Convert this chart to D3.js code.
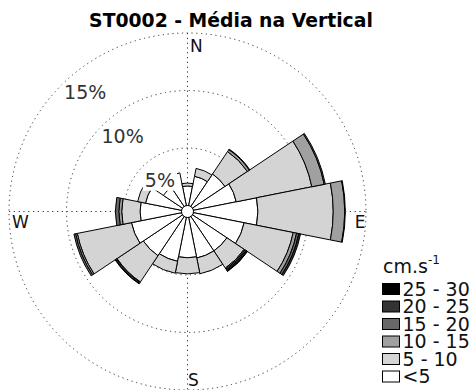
<!DOCTYPE html>
<html>
<head>
<meta charset="utf-8">
<script src="https://cdn.jsdelivr.net/npm/d3@7"></script>
<style>
  html, body { margin: 0; padding: 0; background: #fff; }
  svg { display: block; font-family: "DejaVu Sans", sans-serif; }
</style>
</head>
<body>
<svg id="rose" width="476" height="390"></svg>
<script>
// Direction sectors, clockwise from north
const directions = ["N","NNE","NE","ENE","E","ESE","SE","SSE","S","SSW","SW","WSW","W","WNW","NW","NNW"];

// Speed classes (cm/s) and their fills
const speedBins = ["<5", "5 - 10", "10 - 15", "15 - 20", "20 - 25", "25 - 30"];
const binColors = ["#ffffff", "#d4d4d4", "#a0a0a0", "#686868", "#333333", "#000000"];

// Frequency (%) of each speed class per direction
const pctBelow5 = [1.70, 2.60, 3.40, 3.80, 5.60, 4.50, 3.60, 3.60, 3.50, 3.90, 4.10, 4.45, 3.60, 3.20, 2.00, 2.90];
const pct5to10  = [0.25, 0.70, 2.35, 6.70, 6.55, 4.35, 1.80, 1.40, 1.40, 1.05, 2.75, 4.80, 1.60, 0.70, 0.00, 0.00];
const pct10to15 = [0.00, 0.00, 0.20, 1.10, 1.00, 0.30, 0.10, 0.00, 0.00, 0.00, 0.05, 0.15, 0.25, 0.00, 0.00, 0.00];
const pct15to20 = [0.00, 0.00, 0.05, 0.10, 0.05, 0.20, 0.10, 0.00, 0.00, 0.00, 0.10, 0.15, 0.30, 0.00, 0.00, 0.00];
const pct20to25 = [0.00, 0.00, 0.00, 0.00, 0.00, 0.15, 0.10, 0.00, 0.00, 0.00, 0.05, 0.00, 0.00, 0.00, 0.00, 0.00];
const pct25to30 = [0.00, 0.00, 0.00, 0.00, 0.00, 0.00, 0.05, 0.00, 0.00, 0.00, 0.00, 0.00, 0.00, 0.00, 0.00, 0.00];

// Radial rings
const ringTicks = [5, 10, 15];
const ringLabels = ["5%", "10%", "15%"];

const svg = d3.select("#rose");
const cx = 187.5, cy = 211.5;
const hole = 6;

const r = d3.scaleLinear().domain([0, 15]).range([hole, 178.5]);
const R = r(15);
const sector = 2 * Math.PI / directions.length;

const rows = directions.map((d, i) => ({
  dir: d,
  "<5": pctBelow5[i], "5 - 10": pct5to10[i], "10 - 15": pct10to15[i],
  "15 - 20": pct15to20[i], "20 - 25": pct20to25[i], "25 - 30": pct25to30[i]
}));
const stacked = d3.stack().keys(speedBins)(rows);

const g = svg.append("g").attr("transform", `translate(${cx},${cy})`);

// Grid: dotted rings and cross
const gridStyle = sel => sel.attr("fill", "none").attr("stroke", "#333")
  .attr("stroke-width", 1).attr("stroke-dasharray", "1.2,3.6");
g.selectAll("circle.ring").data(ringTicks).join("circle")
  .attr("class", "ring").attr("r", d => r(d)).call(gridStyle);
g.append("line").attr("x1", -R).attr("x2", R).attr("y1", 0).attr("y2", 0).call(gridStyle);
g.append("line").attr("x1", 0).attr("x2", 0).attr("y1", -R).attr("y2", R).call(gridStyle);

// Petals: one annular sector per speed class and direction
const arc = d3.arc();
stacked.forEach((layer, k) => {
  g.append("g").selectAll("path")
    .data(layer.filter(s => s[1] - s[0] > 0))
    .join("path")
    .attr("d", s => {
      const i = directions.indexOf(s.data.dir);
      return arc({
        innerRadius: r(s[0]),
        outerRadius: r(s[1]),
        startAngle: i * sector - sector / 2,
        endAngle: i * sector + sector / 2
      });
    })
    .attr("fill", binColors[k])
    .attr("stroke", "#000")
    .attr("stroke-width", 1)
    .attr("stroke-linejoin", "round");
});

// Central calm circle
g.append("circle").attr("r", hole).attr("fill", "#fff").attr("stroke", "#000").attr("stroke-width", 1);

// Ring labels on a white box, along the north-west diagonal
const labAng = -40.5 * Math.PI / 180;
ringTicks.forEach((t, i) => {
  const rr = r(t) - 21;
  const x = rr * Math.sin(labAng), y = -rr * Math.cos(labAng);
  const lg = g.append("g");
  const txt = lg.append("text")
    .attr("x", x).attr("y", y + 7.5)
    .attr("text-anchor", "middle")
    .attr("font-size", 19).attr("fill", "#333")
    .text(ringLabels[i]);
  const bb = txt.node().getBBox();
  lg.insert("rect", "text")
    .attr("x", bb.x - 2).attr("y", bb.y + 1)
    .attr("width", bb.width + 4).attr("height", bb.height - 1)
    .attr("fill", "#fff");
});

// Compass labels
const compass = [
  { t: "N", x: 2.5, y: -R + 19, a: "start" },
  { t: "S", x: 0.5, y: R - 4.5, a: "start" },
  { t: "E", x: R - 0.5, y: 16.5, a: "end" },
  { t: "W", x: -R + 3, y: 16.5, a: "start" }
];
g.selectAll("text.cmp").data(compass).join("text")
  .attr("class", "cmp")
  .attr("x", d => d.x).attr("y", d => d.y)
  .attr("text-anchor", d => d.a)
  .attr("font-size", 17).attr("fill", "#111")
  .text(d => d.t);

// Title
svg.append("text")
  .attr("x", 231).attr("y", 27)
  .attr("text-anchor", "middle")
  .attr("font-size", 18.8).attr("font-weight", "bold").attr("fill", "#000")
  .text("ST0002 - Média na Vertical");

// Legend
const lg = svg.append("g").attr("transform", "translate(382,0)");
const unit = lg.append("text").attr("x", 1).attr("y", 273)
  .attr("font-size", 19).attr("fill", "#111");
unit.append("tspan").text("cm.s");
unit.append("tspan").attr("font-size", 12).attr("dy", -9).text("-1");

const legendRows = speedBins.map((b, i) => ({ b, c: binColors[i] })).reverse();
const ly = d3.scalePoint().domain(legendRows.map(d => d.b)).range([289, 376.5]);
lg.selectAll("rect.key").data(legendRows).join("rect")
  .attr("class", "key")
  .attr("x", 0.5).attr("y", d => ly(d.b) - 5.5)
  .attr("width", 17).attr("height", 11)
  .attr("fill", d => d.c).attr("stroke", "#000").attr("stroke-width", 1);
lg.selectAll("text.key").data(legendRows).join("text")
  .attr("class", "key")
  .attr("x", 20.5).attr("y", d => ly(d.b) + 6.5)
  .attr("font-size", 19).attr("fill", "#111")
  .text(d => d.b);
</script>
</body>
</html>
